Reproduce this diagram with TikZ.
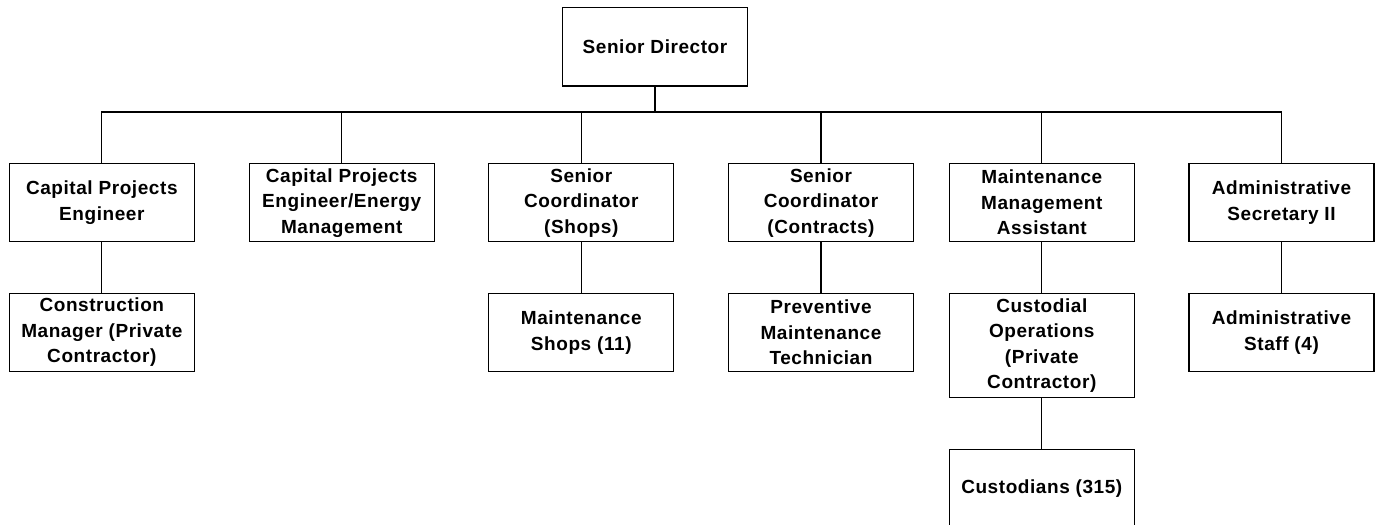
\documentclass[tikz,border=0pt]{standalone}
\usepackage{fontspec}
\setmainfont{Liberation Sans}[LetterSpace=3]
\begin{document}
\begin{tikzpicture}[x=1pt,y=-1pt,
  unit/.style={draw=black, line width=1.2pt, fill=white, minimum width=185pt,
    minimum height=78pt, inner sep=0pt, align=center,
    font=\fontsize{19}{25.5}\selectfont\bfseries},
  link/.style={line width=1.2pt}]
\useasboundingbox (0,0) rectangle (1377,525);
\clip (0,0) rectangle (1377,525);

% director
\node[unit, minimum height=78.7pt] (top) at (655,46.7) {Senior Director};

% second level
\node[unit] (c1) at (101.8,202.7) {Capital Projects\\Engineer};
\node[unit] (c2) at (341.7,202.7) {Capital Projects\\Engineer/Energy\\Management};
\node[unit] (c3) at (581.3,202.7) {Senior\\Coordinator\\(Shops)};
\node[unit] (c4) at (821,202.7) {Senior\\Coordinator\\(Contracts)};
\node[unit] (c5) at (1041.8,202.7) {Maintenance\\Management\\Assistant};
\node[unit] (c6) at (1281.5,202.7) {Administrative\\Secretary II};

% third level
\node[unit] (d1) at (101.8,332.5) {Construction\\Manager (Private\\Contractor)};
\node[unit] (d3) at (581.3,332.5) {Maintenance\\Shops (11)};
\node[unit] (d4) at (821,332.5) {Preventive\\Maintenance\\Technician};
\node[unit, minimum height=104.4pt] (d5) at (1041.8,345.5) {Custodial\\Operations\\(Private\\Contractor)};
\node[unit] (d6) at (1281.5,332.5) {Administrative\\Staff (4)};

% fourth level
\node[unit] (e5) at (1041.8,488.3) {Custodians (315)};

% connectors
\coordinate (bus) at (655,112);
\draw[link] (top.south) -- (bus);
\foreach \c in {c1,c2,c3,c4,c5,c6}
  \draw[link] (\c.north) |- (bus);
\draw[link] (c1.south) -- (d1.north);
\draw[link] (c3.south) -- (d3.north);
\draw[link] (c4.south) -- (d4.north);
\draw[link] (c5.south) -- (d5.north);
\draw[link] (c6.south) -- (d6.north);
\draw[link] (d5.south) -- (e5.north);
\end{tikzpicture}
\end{document}
